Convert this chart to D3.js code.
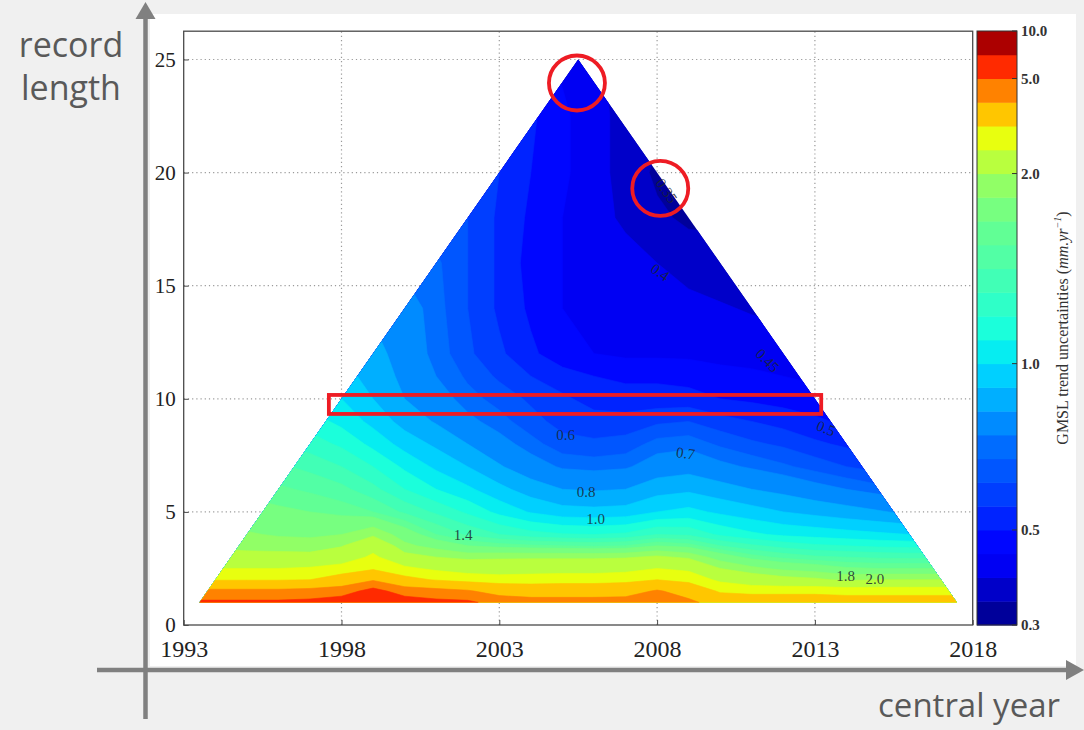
<!DOCTYPE html>
<html>
<head>
<meta charset="utf-8">
<script src="https://cdn.jsdelivr.net/npm/d3@7"></script>
<style>
  html, body { margin: 0; padding: 0; background: #f0f0f0; }
  svg { display: block; }
</style>
</head>
<body>
<svg id="chart" width="1084" height="730"></svg>
<script>
// grid columns (central year) and rows (record length, years)
var centralYears = [1993, 1994, 1995, 1996, 1997, 1998, 1999, 2000, 2001, 2002, 2003, 2004, 2005,
  2006, 2007, 2008, 2009, 2010, 2011, 2012, 2013, 2014, 2015, 2016, 2017, 2018];
var recordLengths = [1, 1.5, 2, 2.5, 3, 3.5, 4, 5, 6, 7, 8, 9, 10, 11, 12, 14, 16, 18, 20, 22.5, 25];

// GMSL trend uncertainty (mm/yr), one row per record length, one value per central year
var trendUncertainty = [
  [5.2, 5.2, 5.2, 5.2, 5.3, 5.6, 7.0, 5.6, 5.3, 5.2, 4.6, 4.4, 4.4, 4.4, 4.4, 4.8, 4.2, 3.6, 3.5, 3.5, 3.5, 3.4, 3.4, 3.4, 3.4, 3.4],
  [4.2, 4.2, 4.2, 4.2, 4.3, 4.5, 5.4, 4.5, 4.3, 4.1, 3.6, 3.5, 3.5, 3.5, 3.6, 4.1, 3.6, 2.9, 2.8, 2.8, 2.8, 2.75, 2.75, 2.75, 2.75, 2.75],
  [2.95, 2.95, 2.95, 2.95, 3.0, 3.3, 3.9, 3.2, 2.95, 2.75, 2.7, 2.7, 2.75, 2.75, 2.8, 3.0, 2.8, 2.4, 2.2, 2.1, 2.05, 1.95, 2.0, 2.0, 2.0, 2.0],
  [2.5, 2.5, 2.5, 2.5, 2.55, 2.7, 2.9, 2.6, 2.4, 2.3, 2.25, 2.3, 2.3, 2.3, 2.35, 2.5, 2.4, 2.0, 1.85, 1.75, 1.7, 1.62, 1.6, 1.6, 1.6, 1.6],
  [2.1, 2.1, 2.1, 2.1, 2.08, 2.2, 2.6, 2.1, 2.0, 1.92, 1.95, 1.95, 1.95, 1.95, 1.97, 2.05, 1.95, 1.7, 1.55, 1.47, 1.42, 1.4, 1.38, 1.37, 1.37, 1.37],
  [1.95, 1.95, 1.92, 1.9, 1.9, 1.98, 2.3, 1.85, 1.72, 1.6, 1.55, 1.52, 1.5, 1.48, 1.5, 1.6, 1.55, 1.4, 1.32, 1.26, 1.22, 1.2, 1.18, 1.17, 1.17, 1.17],
  [1.88, 1.85, 1.82, 1.78, 1.76, 1.8, 1.95, 1.7, 1.5, 1.38, 1.3, 1.24, 1.21, 1.2, 1.22, 1.3, 1.28, 1.18, 1.12, 1.08, 1.06, 1.04, 1.02, 1.0, 1.0, 1.0],
  [1.72, 1.7, 1.68, 1.63, 1.6, 1.56, 1.5, 1.38, 1.28, 1.18, 1.07, 0.99, 0.94, 0.93, 0.94, 1.0, 1.03, 0.98, 0.94, 0.9, 0.87, 0.84, 0.81, 0.78, 0.76, 0.76],
  [1.6, 1.57, 1.55, 1.52, 1.48, 1.43, 1.33, 1.2, 1.1, 1.02, 0.93, 0.85, 0.8, 0.79, 0.8, 0.86, 0.88, 0.84, 0.8, 0.77, 0.73, 0.7, 0.67, 0.64, 0.62, 0.62],
  [1.5, 1.47, 1.45, 1.42, 1.37, 1.3, 1.2, 1.08, 0.98, 0.9, 0.81, 0.74, 0.69, 0.68, 0.69, 0.74, 0.76, 0.72, 0.69, 0.66, 0.63, 0.6, 0.58, 0.56, 0.55, 0.55],
  [1.4, 1.37, 1.34, 1.3, 1.25, 1.18, 1.07, 0.96, 0.88, 0.8, 0.73, 0.67, 0.62, 0.61, 0.62, 0.67, 0.68, 0.64, 0.61, 0.59, 0.56, 0.54, 0.52, 0.5, 0.5, 0.5],
  [1.3, 1.27, 1.24, 1.2, 1.15, 1.07, 0.97, 0.86, 0.79, 0.72, 0.67, 0.62, 0.58, 0.57, 0.57, 0.59, 0.6, 0.57, 0.55, 0.53, 0.51, 0.49, 0.47, 0.46, 0.46, 0.46],
  [1.2, 1.17, 1.14, 1.1, 1.05, 1.0, 0.9, 0.8, 0.74, 0.67, 0.63, 0.59, 0.56, 0.53, 0.52, 0.52, 0.52, 0.5, 0.49, 0.48, 0.47, 0.46, 0.45, 0.45, 0.45, 0.45],
  [1.1, 1.07, 1.04, 1.0, 0.97, 0.93, 0.87, 0.77, 0.7, 0.64, 0.59, 0.55, 0.52, 0.5, 0.49, 0.49, 0.48, 0.47, 0.46, 0.45, 0.44, 0.43, 0.43, 0.43, 0.43, 0.43],
  [1.0, 0.97, 0.95, 0.92, 0.9, 0.88, 0.84, 0.75, 0.68, 0.61, 0.56, 0.51, 0.47, 0.45, 0.44, 0.44, 0.44, 0.43, 0.43, 0.42, 0.41, 0.41, 0.41, 0.41, 0.41, 0.41],
  [0.9, 0.88, 0.86, 0.84, 0.82, 0.8, 0.78, 0.74, 0.67, 0.6, 0.54, 0.49, 0.45, 0.43, 0.42, 0.42, 0.415, 0.405, 0.395, 0.39, 0.39, 0.39, 0.39, 0.39, 0.39, 0.39],
  [0.8, 0.78, 0.76, 0.75, 0.74, 0.72, 0.7, 0.68, 0.66, 0.6, 0.54, 0.48, 0.45, 0.43, 0.42, 0.4, 0.38, 0.37, 0.36, 0.36, 0.36, 0.36, 0.36, 0.36, 0.36, 0.36],
  [0.7, 0.69, 0.68, 0.67, 0.66, 0.65, 0.64, 0.63, 0.62, 0.6, 0.54, 0.49, 0.45, 0.42, 0.39, 0.36, 0.34, 0.34, 0.34, 0.34, 0.34, 0.34, 0.34, 0.34, 0.34, 0.34],
  [0.6, 0.6, 0.6, 0.6, 0.6, 0.6, 0.59, 0.58, 0.57, 0.56, 0.55, 0.5, 0.46, 0.42, 0.38, 0.34, 0.33, 0.33, 0.33, 0.33, 0.33, 0.33, 0.33, 0.33, 0.33, 0.33],
  [0.55, 0.55, 0.55, 0.55, 0.55, 0.55, 0.55, 0.55, 0.55, 0.55, 0.54, 0.51, 0.46, 0.42, 0.38, 0.36, 0.36, 0.36, 0.36, 0.36, 0.36, 0.36, 0.36, 0.36, 0.36, 0.36],
  [0.5, 0.5, 0.5, 0.5, 0.5, 0.5, 0.5, 0.5, 0.5, 0.5, 0.49, 0.47, 0.44, 0.41, 0.38, 0.37, 0.37, 0.37, 0.37, 0.37, 0.37, 0.37, 0.37, 0.37, 0.37, 0.37]
];

// contour levels and colorbar ticks
var levels = [0.3, 0.35, 0.4, 0.45, 0.5, 0.55, 0.6, 0.65, 0.7, 0.8, 0.9, 1.0, 1.1, 1.2, 1.3,
  1.4, 1.5, 1.6, 1.8, 2.0, 2.5, 3.0, 4.0, 5.0, 7.5, 10.0];
var colorbarTicks = [0.3, 0.5, 1.0, 2.0, 5.0, 10.0];

var xTicks = [1993, 1998, 2003, 2008, 2013, 2018];
var yTicks = [0, 5, 10, 15, 20, 25];

// inline contour labels
var labelText = ["0.35", "0.4", "0.45", "0.5", "0.6", "0.7", "0.8", "1.0", "1.4", "1.8", "2.0"];
var labelYears = [2008.3, 2008.1, 2011.5, 2013.35, 2005.1, 2008.9, 2005.75, 2006.05, 2001.85, 2013.97, 2014.9];
var labelLengths = [19.2, 15.6, 11.7, 8.7, 8.4, 7.6, 5.9, 4.7, 3.98, 2.17, 2.03];

// annotations (red marks drawn on the figure)
var circleYears = [2005.46, 2008.1];
var circleLengths = [23.96, 19.3];
var boxYears = [1997.6, 2013.2];
var boxLengths = [9.33, 10.17];

var firstYear = 1993, lastYear = 2018, minLength = 1;

////////////////////////
// setup
////////////////////////
var svg = d3.select("#chart");
var serif = "'Liberation Serif', 'DejaVu Serif', serif";

var x = d3.scaleLinear().domain([1993, 2018]).range([183.7, 972.7]);
var y = d3.scaleLinear().domain([0, 26.25]).range([625, 31.2]);

// matplotlib "jet"
var jetR = d3.scaleLinear().domain([0, 0.35, 0.66, 0.89, 1]).range([0, 0, 1, 1, 0.5]).clamp(true);
var jetG = d3.scaleLinear().domain([0, 0.125, 0.375, 0.64, 0.91, 1]).range([0, 0, 1, 1, 0, 0]).clamp(true);
var jetB = d3.scaleLinear().domain([0, 0.11, 0.34, 0.65, 1]).range([0.5, 1, 1, 0, 0]).clamp(true);
function jet(t) {
  return d3.rgb(jetR(t) * 255, jetG(t) * 255, jetB(t) * 255).formatHex();
}
var lo = levels[0], hi = levels[levels.length - 1];
var bandColors = levels.slice(0, -1).map(function(l, i) {
  var mid = (l + levels[i + 1]) / 2;
  return jet(Math.log(mid / lo) / Math.log(hi / lo));
});

// white figure panel
svg.append("rect")
  .attr("x", 150).attr("y", 14).attr("width", 926).attr("height", 652)
  .attr("fill", "#ffffff");

// grid lines
var grid = svg.append("g");
grid.selectAll("line.gx")
  .data(xTicks.slice(1, -1))
  .enter().append("line")
  .attr("x1", function(d) { return x(d); })
  .attr("x2", function(d) { return x(d); })
  .attr("y1", y.range()[0]).attr("y2", y.range()[1])
  .attr("stroke", "#9a9a9a").attr("stroke-width", 1.2)
  .attr("stroke-dasharray", "1.2,3");
grid.selectAll("line.gy")
  .data(yTicks.slice(1))
  .enter().append("line")
  .attr("x1", x.range()[0]).attr("x2", x.range()[1])
  .attr("y1", function(d) { return y(d); })
  .attr("y2", function(d) { return y(d); })
  .attr("stroke", "#9a9a9a").attr("stroke-width", 1.2)
  .attr("stroke-dasharray", "1.2,3");

// triangle of valid (central year, record length) pairs
var tri = [
  [firstYear + minLength / 2, minLength],
  [(firstYear + lastYear) / 2, lastYear - firstYear],
  [lastYear - minLength / 2, minLength]
];
svg.append("clipPath").attr("id", "tri")
  .append("path")
  .attr("d", d3.line()(tri.map(function(p) { return [x(p[0]), y(p[1])]; })) + "Z");

// filled contours
var nx = centralYears.length, ny = recordLengths.length;
var values = [];
trendUncertainty.forEach(function(row) { row.forEach(function(v) { values.push(v); }); });

var colToYear = d3.scaleLinear().domain(d3.range(nx)).range(centralYears);
var rowToLength = d3.scaleLinear().domain(d3.range(ny)).range(recordLengths);
var gridProj = d3.geoTransform({
  point: function(px, py) {
    this.stream.point(x(colToYear(px - 0.5)), y(rowToLength(py - 0.5)));
  }
});
var contourPath = d3.geoPath(gridProj);

var bands = d3.contours()
  .size([nx, ny])
  .thresholds(levels.slice(0, -1))(values);

svg.append("g")
  .attr("clip-path", "url(#tri)")
  .selectAll("path")
  .data(bands)
  .enter().append("path")
  .attr("d", contourPath)
  .attr("fill", function(d, i) { return bandColors[i]; })
  .attr("stroke", function(d, i) { return bandColors[i]; })
  .attr("stroke-width", 0.6);

// contour labels
svg.append("g").selectAll("text")
  .data(labelText)
  .enter().append("text")
  .attr("transform", function(d, i) {
    var a = [55, 35, 45, 22, 0, 8, 0, 0, 0, 0, 0][i];
    return "translate(" + x(labelYears[i]) + "," + y(labelLengths[i]) + ") rotate(" + a + ")";
  })
  .attr("text-anchor", "middle")
  .attr("dy", "0.35em")
  .attr("font-family", serif)
  .attr("font-size", "15px")
  .attr("fill", "#1b2430")
  .attr("fill-opacity", 0.85)
  .text(function(d) { return d; });

// frame
svg.append("rect")
  .attr("x", x.range()[0]).attr("y", y.range()[1])
  .attr("width", x.range()[1] - x.range()[0])
  .attr("height", y.range()[0] - y.range()[1])
  .attr("fill", "none").attr("stroke", "#4a4a4a").attr("stroke-width", 1.3);

// axes
var xAxis = svg.append("g")
  .attr("transform", "translate(0," + y.range()[0] + ")")
  .call(d3.axisBottom(x).tickValues(xTicks).tickSize(-5).tickPadding(15).tickFormat(d3.format("d")));
xAxis.select(".domain").remove();
xAxis.selectAll("text").attr("font-family", serif).attr("font-size", "24px").attr("fill", "#222");
xAxis.selectAll("line").attr("stroke", "#4a4a4a");

var yAxis = svg.append("g")
  .attr("transform", "translate(" + x.range()[0] + ",0)")
  .call(d3.axisLeft(y).tickValues(yTicks).tickSize(-5).tickPadding(8));
yAxis.select(".domain").remove();
yAxis.selectAll("text").attr("font-family", serif).attr("font-size", "21px").attr("fill", "#222");
yAxis.selectAll("line").attr("stroke", "#4a4a4a");

// colorbar
var cbX = 977, cbW = 40;
var cb = d3.scaleLinear().domain([0, levels.length - 1]).range([625, 31]);
var cbar = svg.append("g");
cbar.selectAll("rect")
  .data(bandColors)
  .enter().append("rect")
  .attr("x", cbX).attr("width", cbW)
  .attr("y", function(d, i) { return cb(i + 1); })
  .attr("height", function(d, i) { return cb(i) - cb(i + 1) + 0.5; })
  .attr("fill", function(d) { return d; });
cbar.append("rect")
  .attr("x", cbX).attr("y", cb.range()[1]).attr("width", cbW)
  .attr("height", cb.range()[0] - cb.range()[1])
  .attr("fill", "none").attr("stroke", "#333").attr("stroke-width", 1);
cbar.selectAll("line.tk")
  .data(colorbarTicks)
  .enter().append("line")
  .attr("x1", cbX + cbW - 5).attr("x2", cbX + cbW)
  .attr("y1", function(d) { return cb(levels.indexOf(d)); })
  .attr("y2", function(d) { return cb(levels.indexOf(d)); })
  .attr("stroke", "#333");
cbar.selectAll("text.tk")
  .data(colorbarTicks)
  .enter().append("text")
  .attr("x", cbX + cbW + 4)
  .attr("y", function(d) { return cb(levels.indexOf(d)); })
  .attr("dy", "0.35em")
  .attr("font-family", serif)
  .attr("font-size", "15px")
  .attr("font-weight", "bold")
  .attr("fill", "#333")
  .text(function(d) { return d.toFixed(1); });

var cbLabel = svg.append("text")
  .attr("transform", "translate(1068," + ((cb.range()[0] + cb.range()[1]) / 2) + ") rotate(-90)")
  .attr("text-anchor", "middle")
  .attr("font-family", serif)
  .attr("font-size", "16px")
  .attr("fill", "#333");
cbLabel.append("tspan").text("GMSL trend uncertainties (");
cbLabel.append("tspan").attr("font-style", "italic").text("mm.yr");
cbLabel.append("tspan").attr("font-style", "italic").attr("font-size", "10px").attr("dy", "-7").text("−1");
cbLabel.append("tspan").attr("dy", "7").text(")");

// red highlight marks
var red = "#ee1c24";
svg.append("g").selectAll("ellipse")
  .data(circleYears)
  .enter().append("ellipse")
  .attr("cx", function(d) { return x(d); })
  .attr("cy", function(d, i) { return y(circleLengths[i]); })
  .attr("rx", 28).attr("ry", 27.5)
  .attr("fill", "none").attr("stroke", red).attr("stroke-width", 3.8);
svg.append("rect")
  .attr("x", x(boxYears[0])).attr("y", y(boxLengths[1]))
  .attr("width", x(boxYears[1]) - x(boxYears[0]))
  .attr("height", y(boxLengths[0]) - y(boxLengths[1]))
  .attr("fill", "none").attr("stroke", red).attr("stroke-width", 3.8);

// big grey arrows around the figure
var grey = "#808080";
svg.append("line").attr("x1", 145.5).attr("x2", 145.5).attr("y1", 719).attr("y2", 14)
  .attr("stroke", grey).attr("stroke-width", 4.5);
svg.append("path").attr("d", "M135.5,19 L155.5,19 L145.5,2 Z").attr("fill", grey);
svg.append("line").attr("x1", 97).attr("x2", 1070).attr("y1", 670).attr("y2", 670)
  .attr("stroke", grey).attr("stroke-width", 4.5);
svg.append("path").attr("d", "M1066,660 L1084,670 L1066,680 Z").attr("fill", grey);

var sans = "'Open Sans', Lato, sans-serif";
svg.append("text").attr("x", 71).attr("y", 57).attr("text-anchor", "middle")
  .attr("font-family", sans).attr("font-size", "34px").attr("fill", "#595959").text("record");
svg.append("text").attr("x", 71).attr("y", 100).attr("text-anchor", "middle")
  .attr("font-family", sans).attr("font-size", "34px").attr("fill", "#595959").text("length");
svg.append("text").attr("x", 1060).attr("y", 717).attr("text-anchor", "end")
  .attr("font-family", sans).attr("font-size", "33px").attr("fill", "#595959").text("central year");
</script>
</body>
</html>
